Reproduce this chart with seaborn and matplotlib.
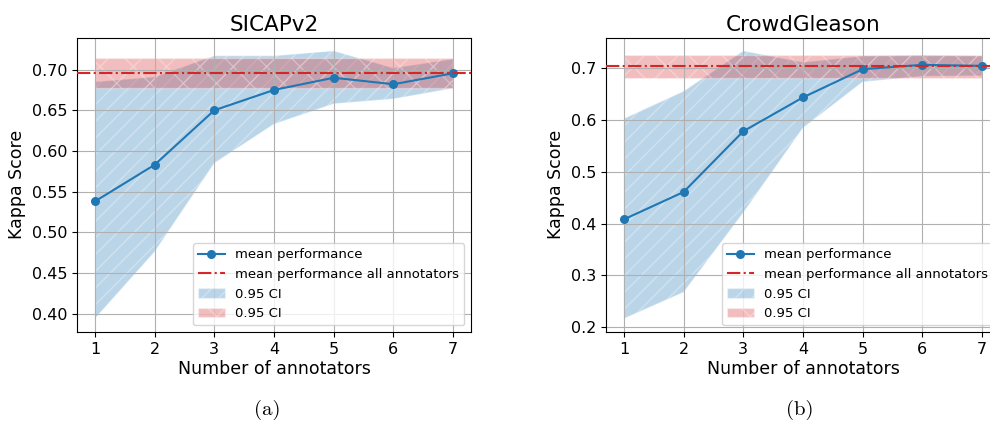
import matplotlib
matplotlib.use("Agg")
import matplotlib.pyplot as plt
import seaborn as sns
import pandas as pd
from matplotlib.lines import Line2D
from matplotlib.patches import Patch

# ---- data ----
n_annotators = [1, 2, 3, 4, 5, 6, 7]

sicap_mean = [0.538, 0.583, 0.650, 0.675, 0.690, 0.682, 0.6955]
sicap_lo = [0.394, 0.476, 0.585, 0.633, 0.658, 0.664, 0.677]
sicap_hi = [0.685, 0.691, 0.717, 0.717, 0.723, 0.702, 0.713]
sicap_all_mean = 0.6955
sicap_all_lo = 0.677
sicap_all_hi = 0.714

crowd_mean = [0.408, 0.461, 0.5785, 0.644, 0.6986, 0.707, 0.705]
crowd_lo = [0.216, 0.267, 0.421, 0.585, 0.674, 0.685, 0.686]
crowd_hi = [0.603, 0.656, 0.734, 0.712, 0.724, 0.726, 0.724]
crowd_all_mean = 0.705
crowd_all_lo = 0.6825
crowd_all_hi = 0.726

titles = ["SICAPv2", "CrowdGleason"]
captions = ["(a)", "(b)"]
legend_labels = ["mean performance", "mean performance all annotators", "0.95 CI", "0.95 CI"]

plt.rcdefaults()
plt.rcParams["font.family"] = ["DejaVu Sans"]

W, H = 990, 424
fig = plt.figure(figsize=(W / 100, H / 100), dpi=100)

def px_axes(x0, x1, y0, y1):
    return fig.add_axes([x0 / W, 1 - y1 / H, (x1 - x0) / W, (y1 - y0) / H])

axes = [px_axes(77, 471, 37.5, 332), px_axes(606, 1000, 37.5, 332)]

BLUE = "#1f77b4"
RED = "#d62728"

datasets = [
    (sicap_mean, sicap_lo, sicap_hi, sicap_all_mean, sicap_all_lo, sicap_all_hi),
    (crowd_mean, crowd_lo, crowd_hi, crowd_all_mean, crowd_all_lo, crowd_all_hi),
]

for ax, title, (m, lo, hi, am, alo, ahi) in zip(axes, titles, datasets):
    df = pd.DataFrame({"n": n_annotators, "kappa": m})
    ax.fill_between(n_annotators, lo, hi, facecolor=BLUE, edgecolor="white",
                    alpha=0.3, hatch="//", linewidth=1, zorder=1)
    ax.fill_between([n_annotators[0], n_annotators[-1]], [alo, alo], [ahi, ahi],
                    facecolor=RED, edgecolor="white", alpha=0.3, hatch="x",
                    linewidth=1, zorder=1)
    sns.lineplot(data=df, x="n", y="kappa", ax=ax, color=BLUE, marker="o",
                 markersize=6.5, markeredgewidth=0, linewidth=1.5, zorder=3)
    ax.axhline(am, color=RED, linestyle="-.", linewidth=1.5, zorder=4)
    ax.grid(True, color="#b0b0b0", linewidth=0.8)
    ax.set_xticks(n_annotators)
    ax.tick_params(labelsize=11.5, colors="black")
    ax.set_title(title, fontsize=15.5, pad=5, color="black")
    ax.set_xlabel("Number of annotators", fontsize=12.5, labelpad=2, color="black")
    ax.set_ylabel("Kappa Score", fontsize=12.5, color="black")
    handles = [
        Line2D([], [], color=BLUE, marker="o", markersize=6.5, markeredgewidth=0, linewidth=1.5),
        Line2D([], [], color=RED, linestyle="-.", linewidth=1.5),
        Patch(facecolor=BLUE, edgecolor="white", alpha=0.3, hatch="//"),
        Patch(facecolor=RED, edgecolor="white", alpha=0.3, hatch="x"),
    ]
    ax.legend(handles, legend_labels, loc="lower right", fontsize=9.5)

axes[1].set_yticks([0.2, 0.3, 0.4, 0.5, 0.6, 0.7])

for cx, cap in zip([267, 800], captions):
    fig.text(cx / W, 1 - 410 / H, cap, ha="center", va="center",
             fontsize=15, family="cmr10")

fig.savefig("out.png", dpi=100)
